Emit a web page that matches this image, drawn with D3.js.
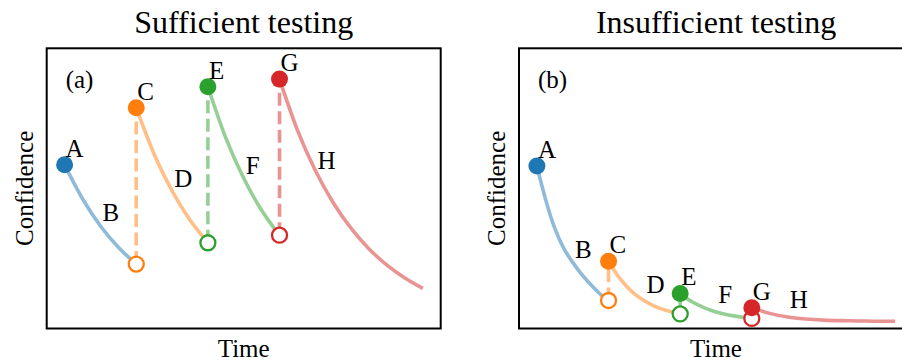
<!DOCTYPE html>
<html>
<head>
<meta charset="utf-8">
<script src="https://cdn.jsdelivr.net/npm/d3@7"></script>
<style>
  body { margin: 0; background: #fff; }
  svg { display: block; }
  text { font-family: "Liberation Serif", "Times New Roman", serif; fill: #000; }
</style>
</head>
<body>
<svg id="chart" width="902" height="363"></svg>
<script>
// data: [time, confidence]
const segmentLabels = ["B", "D", "F", "H"];
const pointLabels = ["A", "C", "E", "G"];
const panelTitles = ["Sufficient testing", "Insufficient testing"];
const panelTags = ["(a)", "(b)"];
const labelTimes = [0.53, 1.53, 2.53, 3.53];

const sufficientSegs = [
  [[0, 0.584], [0.25, 0.463], [0.5, 0.366], [0.75, 0.290], [1, 0.230]],
  [[1, 0.788], [1.25, 0.622], [1.5, 0.491], [1.75, 0.387], [2, 0.306]],
  [[2, 0.863], [2.25, 0.680], [2.5, 0.536], [2.75, 0.422], [3, 0.333]],
  [[3, 0.890], [3.25, 0.708], [3.5, 0.564], [3.75, 0.449], [4, 0.357],
   [4.25, 0.284], [4.5, 0.226], [4.75, 0.180], [5, 0.143]]
];
const sufficientLabelConf = [0.384, 0.506, 0.550, 0.568];

const insufficientSegs = [
  [[0, 0.580], [0.125, 0.457], [0.25, 0.357], [0.375, 0.286], [0.5, 0.236],
   [0.625, 0.193], [0.75, 0.157], [0.875, 0.125], [1, 0.100]],
  [[1, 0.240], [1.125, 0.190], [1.25, 0.151], [1.375, 0.121], [1.5, 0.099],
   [1.625, 0.082], [1.75, 0.069], [1.875, 0.060], [2, 0.052]],
  [[2, 0.125], [2.125, 0.102], [2.25, 0.084], [2.375, 0.070], [2.5, 0.059],
   [2.625, 0.051], [2.75, 0.045], [2.875, 0.040], [3, 0.036]],
  [[3, 0.074], [3.25, 0.054], [3.5, 0.041], [3.75, 0.034], [4, 0.030],
   [4.25, 0.028], [4.5, 0.027], [4.75, 0.026], [5, 0.026]]
];
const insufficientLabelConf = [0.251, 0.128, 0.090, 0.072];

const colors = ["#1f77b4", "#ff7f0e", "#2ca02c", "#d62728"];

var svg = d3.select("#chart");
var plotTop = 48.3, plotBottom = 328.5, boxW = 394;

function drawPanel(left, segs, labelConf, title, tag) {
  var x = d3.scaleLinear().domain([-0.25, 5.25]).range([left, left + boxW]);
  var y = d3.scaleLinear().domain([0, 1]).range([plotBottom, plotTop]);
  var g = svg.append("g");

  var line = d3.line()
    .x(function(d) { return x(d[0]); })
    .y(function(d) { return y(d[1]); })
    .curve(d3.curveMonotoneX);

  // decay curves
  g.selectAll(".curve").data(segs).enter().append("path")
    .attr("d", line)
    .attr("fill", "none")
    .attr("stroke", function(d, i) { return colors[i]; })
    .attr("stroke-opacity", 0.5)
    .attr("stroke-width", 3.6);

  // jumps after each test: end of one segment to start of the next
  var jumps = d3.range(1, segs.length).map(function(i) {
    return { i: i, from: segs[i - 1][segs[i - 1].length - 1], to: segs[i][0] };
  });

  g.selectAll(".jump").data(jumps).enter().append("line")
    .attr("x1", function(d) { return x(d.from[0]); })
    .attr("y1", function(d) { return y(d.from[1]); })
    .attr("x2", function(d) { return x(d.to[0]); })
    .attr("y2", function(d) { return y(d.to[1]); })
    .attr("stroke", function(d) { return colors[d.i]; })
    .attr("stroke-opacity", 0.5)
    .attr("stroke-width", 3.6)
    .attr("stroke-dasharray", "13,5.5");

  g.selectAll(".open").data(jumps).enter().append("circle")
    .attr("cx", function(d) { return x(d.from[0]); })
    .attr("cy", function(d) { return y(d.from[1]); })
    .attr("r", 7.5)
    .attr("fill", "#fff")
    .attr("stroke", function(d) { return colors[d.i]; })
    .attr("stroke-width", 2.3);

  g.selectAll(".start").data(segs).enter().append("circle")
    .attr("cx", function(d) { return x(d[0][0]); })
    .attr("cy", function(d) { return y(d[0][1]); })
    .attr("r", 8.5)
    .attr("fill", function(d, i) { return colors[i]; });

  g.selectAll(".plabel").data(segs).enter().append("text")
    .attr("x", function(d) { return x(d[0][0]) + 1; })
    .attr("y", function(d) { return y(d[0][1]) - 8; })
    .attr("font-size", 25)
    .text(function(d, i) { return pointLabels[i]; });

  g.selectAll(".slabel").data(labelConf).enter().append("text")
    .attr("x", function(d, i) { return x(labelTimes[i]); })
    .attr("y", function(d) { return y(d); })
    .attr("font-size", 25)
    .text(function(d, i) { return segmentLabels[i]; });

  g.append("text")
    .attr("x", left + 19).attr("y", plotTop + 40)
    .attr("font-size", 25)
    .text(tag);

  g.append("rect")
    .attr("x", left).attr("y", plotTop)
    .attr("width", boxW).attr("height", plotBottom - plotTop)
    .attr("fill", "none").attr("stroke", "#000").attr("stroke-width", 2);

  g.append("text")
    .attr("x", left + boxW / 2).attr("y", 33)
    .attr("text-anchor", "middle")
    .attr("font-size", 32)
    .text(title);

  g.append("text")
    .attr("x", left + boxW / 2).attr("y", 357)
    .attr("text-anchor", "middle")
    .attr("font-size", 25)
    .text("Time");

  g.append("text")
    .attr("transform", "translate(" + (left - 14) + "," + ((plotTop + plotBottom) / 2) + ") rotate(-90)")
    .attr("text-anchor", "middle")
    .attr("font-size", 25)
    .text("Confidence");
}

drawPanel(46.7, sufficientSegs, sufficientLabelConf, panelTitles[0], panelTags[0]);
drawPanel(519, insufficientSegs, insufficientLabelConf, panelTitles[1], panelTags[1]);
</script>
</body>
</html>
